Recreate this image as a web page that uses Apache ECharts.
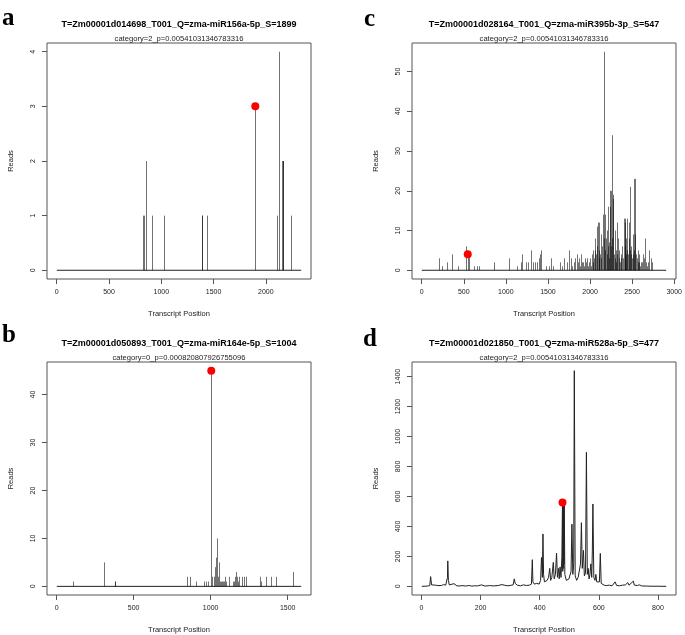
<!DOCTYPE html>
<html>
<head>
<meta charset="utf-8">
<script src="https://cdn.jsdelivr.net/npm/echarts@6/dist/echarts.min.js"></script>
<style>
html,body{margin:0;padding:0;background:#fff;}
#chart{width:685px;height:635px;}
</style>
</head>
<body>
<div id="chart"></div>
<script>
// ---------- Panel a ----------
var aTitle = 'T=Zm00001d014698_T001_Q=zma-miR156a-5p_S=1899';
var aSub = 'category=2_p=0.00541031346783316';
var aLength = 2338;
var aPos   = [823, 836, 858, 909, 1027, 1388, 1394, 1439, 1899, 2102, 2121, 2153, 2160, 2166, 2236];
var aReads = [1, 1, 2, 1, 1, 1, 1, 1, 3, 1, 4, 2, 2, 2, 1];
var aSite = 1899, aSiteReads = 3;
var aXTicks = [0, 500, 1000, 1500, 2000];
var aYTicks = [0, 1, 2, 3, 4];

// ---------- Panel b ----------
var bTitle = 'T=Zm00001d050893_T001_Q=zma-miR164e-5p_S=1004';
var bSub = 'category=0_p=0.000820807926755096';
var bLength = 1588;
var bPos   = [108, 309, 377, 381, 844, 868, 903, 954, 969, 983, 1004, 1010, 1023, 1030, 1034, 1038, 1045, 1051, 1058, 1064, 1071, 1077, 1084, 1090, 1101, 1118, 1142, 1150, 1157, 1165, 1172, 1180, 1187, 1202, 1215, 1232, 1321, 1330, 1361, 1389, 1424, 1535];
var bReads = [1, 5, 1, 1, 2, 2, 1, 1, 1, 1, 45, 2, 2, 4, 6, 10, 2, 5, 1, 1, 1, 1, 1, 2, 1, 2, 1, 1, 2, 3, 2, 1, 2, 2, 2, 2, 2, 1, 2, 2, 2, 3];
var bSite = 1004, bSiteReads = 45;
var bXTicks = [0, 500, 1000, 1500];
var bYTicks = [0, 10, 20, 30, 40];

// ---------- Panel c ----------
var cTitle = 'T=Zm00001d028164_T001_Q=zma-miR395b-3p_S=547';
var cSub = 'category=2_p=0.00541031346783316';
var cLength = 2905;
var cPos   = [210, 246, 298, 357, 437, 524, 547, 567, 627, 655, 683, 857, 1032, 1131, 1183, 1194, 1242, 1258, 1298, 1318, 1341, 1365, 1389, 1405, 1413, 1476, 1508, 1540, 1556, 1647, 1667, 1687, 1726, 1746, 1770, 1790, 1806, 1826, 1845, 1860, 1873, 1885, 1897, 1910, 1921, 1933, 1944, 1956, 1968, 1980, 1992, 2004, 2016, 2024, 2032, 2040, 2048, 2056, 2063, 2071, 2079, 2087, 2095, 2103, 2107, 2111, 2119, 2127, 2135, 2143, 2151, 2163, 2169, 2175, 2183, 2190, 2196, 2202, 2208, 2214, 2220, 2226, 2234, 2242, 2248, 2254, 2260, 2266, 2272, 2278, 2286, 2294, 2300, 2306, 2312, 2317, 2325, 2333, 2341, 2349, 2357, 2365, 2373, 2381, 2393, 2405, 2413, 2417, 2421, 2427, 2433, 2438, 2444, 2452, 2460, 2464, 2470, 2476, 2484, 2492, 2500, 2508, 2516, 2522, 2528, 2536, 2540, 2548, 2556, 2564, 2571, 2579, 2587, 2597, 2607, 2617, 2627, 2639, 2651, 2663, 2675, 2690, 2706, 2722, 2738];
var cReads = [3, 1, 2, 4, 1, 6, 4, 4, 1, 1, 1, 2, 3, 1, 2, 4, 2, 2, 5, 2, 2, 2, 3, 4, 5, 1, 1, 3, 1, 2, 1, 3, 2, 5, 3, 1, 2, 3, 4, 2, 3, 1, 4, 2, 2, 1, 3, 2, 3, 1, 2, 3, 1, 4, 5, 2, 3, 5, 8, 4, 11, 6, 12, 3, 12, 5, 4, 9, 3, 6, 14, 55, 8, 14, 5, 8, 4, 10, 6, 16, 3, 7, 16, 20, 6, 20, 8, 34, 19, 18, 4, 10, 3, 5, 2, 12, 4, 8, 3, 5, 2, 4, 3, 6, 3, 13, 6, 13, 12, 4, 8, 5, 13, 4, 8, 12, 5, 21, 4, 6, 3, 4, 9, 5, 23, 23, 9, 4, 3, 2, 5, 2, 4, 1, 2, 2, 4, 3, 8, 2, 1, 2, 5, 3, 2];
var cSite = 547, cSiteReads = 4;
var cXTicks = [0, 500, 1000, 1500, 2000, 2500, 3000];
var cYTicks = [0, 10, 20, 30, 40, 50];

// ---------- Panel d ----------
var dTitle = 'T=Zm00001d021850_T001_Q=zma-miR528a-5p_S=477';
var dSub = 'category=2_p=0.00541031346783316';
var dPos   = [1, 20, 28, 31, 34, 40, 48, 52, 56, 62, 68, 75, 82, 86, 88, 89, 91, 94, 100, 110, 113, 120, 126, 130, 140, 150, 160, 170, 180, 190, 203, 207, 215, 230, 245, 260, 272, 276, 280, 290, 300, 310, 314, 317, 320, 324, 335, 345, 355, 365, 372, 375, 377, 382, 390, 398, 403, 406, 409, 411, 413, 416, 420, 425, 430, 434, 437, 441, 446, 449, 453, 457, 460, 464, 466, 469, 472, 475, 477, 478, 479, 480, 481, 482, 483, 485, 490, 495, 499, 503, 506, 509, 512, 515, 517, 520, 525, 530, 535, 538, 541, 544, 548, 551, 555, 558, 561, 564, 567, 570, 573, 576, 578, 580, 583, 587, 590, 593, 598, 602, 605, 608, 614, 618, 625, 635, 645, 655, 660, 670, 680, 690, 695, 698, 702, 708, 717, 720, 730, 737, 745, 760, 780, 800, 828];
var dReads = [0, 2, 5, 65, 10, 3, 8, 12, 5, 10, 6, 12, 8, 20, 60, 170, 40, 10, 4, 18, 5, 3, 15, 3, 5, 2, 6, 2, 4, 3, 10, 3, 2, 5, 3, 6, 12, 25, 8, 4, 6, 10, 50, 20, 30, 8, 4, 10, 6, 8, 15, 178, 30, 15, 20, 15, 40, 193, 60, 350, 80, 30, 25, 40, 60, 120, 40, 60, 160, 50, 80, 222, 60, 120, 50, 130, 60, 200, 560, 100, 545, 120, 555, 150, 550, 80, 40, 30, 50, 40, 100, 415, 80, 150, 1440, 70, 40, 60, 50, 150, 425, 120, 240, 70, 90, 895, 80, 120, 50, 80, 150, 60, 230, 550, 60, 40, 80, 30, 20, 30, 220, 20, 30, 8, 5, 8, 4, 30, 6, 4, 8, 10, 20, 25, 8, 10, 35, 8, 6, 10, 3, 2, 1, 1, 0];
var dSite = 477, dSiteReads = 560;
var dXTicks = [0, 200, 400, 600, 800];
var dYTicks = [0, 200, 400, 600, 800, 1000, 1200, 1400];

var FONT = '"Liberation Sans", Arial, sans-serif';

function zip(xs, ys) { return xs.map(function (x, i) { return [x, ys[i]]; }); }
function padRange(lo, hi) { var p = (hi - lo) * 0.04; return [lo - p, hi + p]; }
function plain(v) { return String(v); }

var panels = [
  { grid: { left: 47, top: 43, width: 264, height: 236 }, title: aTitle, sub: aSub, len: aLength, pos: aPos, reads: aReads, site: [aSite, aSiteReads], xt: aXTicks, yt: aYTicks, ymax: 4, kind: 'spike', letter: 'a', lx: 2, ly: 31 },
  { grid: { left: 412, top: 43, width: 264, height: 236 }, title: cTitle, sub: cSub, len: cLength, pos: cPos, reads: cReads, site: [cSite, cSiteReads], xt: cXTicks, yt: cYTicks, ymax: 55, kind: 'spike', letter: 'c', lx: 364, ly: 32 },
  { grid: { left: 47, top: 362, width: 264, height: 235 }, title: bTitle, sub: bSub, len: bLength, pos: bPos, reads: bReads, site: [bSite, bSiteReads], xt: bXTicks, yt: bYTicks, ymax: 45, kind: 'spike', letter: 'b', lx: 2, ly: 348 },
  { grid: { left: 412, top: 362, width: 264, height: 235 }, title: dTitle, sub: dSub, len: 828, pos: dPos, reads: dReads, site: [dSite, dSiteReads], xt: dXTicks, yt: dYTicks, ymax: 1440, kind: 'line', letter: 'd', lx: 363, ly: 352 }
];

var option = { animation: false, backgroundColor: '#fff', grid: [], xAxis: [], yAxis: [], series: [], graphic: [] };

function spikeRender(params, api) {
  var p0 = api.coord([api.value(0), 0]);
  var p1 = api.coord([api.value(0), api.value(1)]);
  var x = Math.round(p0[0]) + 0.5;
  return { type: 'line', shape: { x1: x, y1: p0[1], x2: x, y2: p1[1] }, style: { stroke: 'rgba(0,0,0,0.55)', lineWidth: 1 } };
}

panels.forEach(function (p, i) {
  var g = p.grid;
  option.grid.push({ left: g.left, top: g.top, width: g.width, height: g.height, show: true, borderColor: '#555', borderWidth: 1, backgroundColor: 'transparent' });
  var xr = padRange(1, p.len);
  var yr = padRange(0, p.ymax);
  option.xAxis.push({
    type: 'value', gridIndex: i, min: xr[0], max: xr[1], position: 'bottom',
    name: 'Transcript Position', nameLocation: 'middle', nameGap: 31,
    nameTextStyle: { fontFamily: FONT, fontSize: 7.5, color: '#222' },
    axisLine: { show: false, onZero: false }, splitLine: { show: false },
    axisTick: { show: true, inside: false, length: 5, customValues: p.xt, lineStyle: { color: '#555' } },
    axisLabel: { customValues: p.xt, formatter: plain, margin: 10, fontFamily: FONT, fontSize: 7, color: '#222', showMinLabel: true, showMaxLabel: true }
  });
  option.yAxis.push({
    type: 'value', gridIndex: i, min: yr[0], max: yr[1], position: 'left',
    name: 'Reads', nameLocation: 'middle', nameGap: 32, nameRotate: 90,
    nameTextStyle: { fontFamily: FONT, fontSize: 7.5, color: '#222' },
    axisLine: { show: false, onZero: false }, splitLine: { show: false },
    axisTick: { show: true, inside: false, length: 5, customValues: p.yt, lineStyle: { color: '#555' } },
    axisLabel: { customValues: p.yt, formatter: plain, rotate: 90, margin: 10, fontFamily: FONT, fontSize: 7, color: '#222', showMinLabel: true, showMaxLabel: true }
  });
  if (p.kind === 'spike') {
    option.series.push({
      type: 'line', xAxisIndex: i, yAxisIndex: i, data: [[1, 0], [p.len, 0]],
      showSymbol: false, lineStyle: { color: '#222', width: 1 }, silent: true, z: 2
    });
    option.series.push({
      type: 'custom', xAxisIndex: i, yAxisIndex: i, data: zip(p.pos, p.reads),
      encode: { x: 0, y: 1 }, renderItem: spikeRender, silent: true, z: 3
    });
  } else {
    option.series.push({
      type: 'line', xAxisIndex: i, yAxisIndex: i, data: zip(p.pos, p.reads),
      showSymbol: false, lineStyle: { color: '#222', width: 1 }, silent: true, z: 3
    });
  }
  option.series.push({
    type: 'scatter', xAxisIndex: i, yAxisIndex: i, data: [p.site],
    symbolSize: 8, itemStyle: { color: '#ff0000', opacity: 1 }, silent: true, z: 10
  });
  var cx = g.left + g.width / 2;
  option.graphic.push({ type: 'text', x: cx, y: g.top - 18.5, style: { text: p.title, font: 'bold 9px ' + FONT, fill: '#000', align: 'center', verticalAlign: 'middle' } });
  option.graphic.push({ type: 'text', x: cx, y: g.top - 4, style: { text: p.sub, font: '7.6px ' + FONT, fill: '#222', align: 'center', verticalAlign: 'middle' } });
  option.graphic.push({ type: 'text', x: p.lx, y: p.ly, style: { text: p.letter, font: 'bold 25px "Liberation Serif", "Times New Roman", serif', fill: '#000', align: 'left', verticalAlign: 'bottom' } });
});

var chart = echarts.init(document.getElementById('chart'), null, { renderer: 'canvas' });
chart.setOption(option);
</script>
</body>
</html>
